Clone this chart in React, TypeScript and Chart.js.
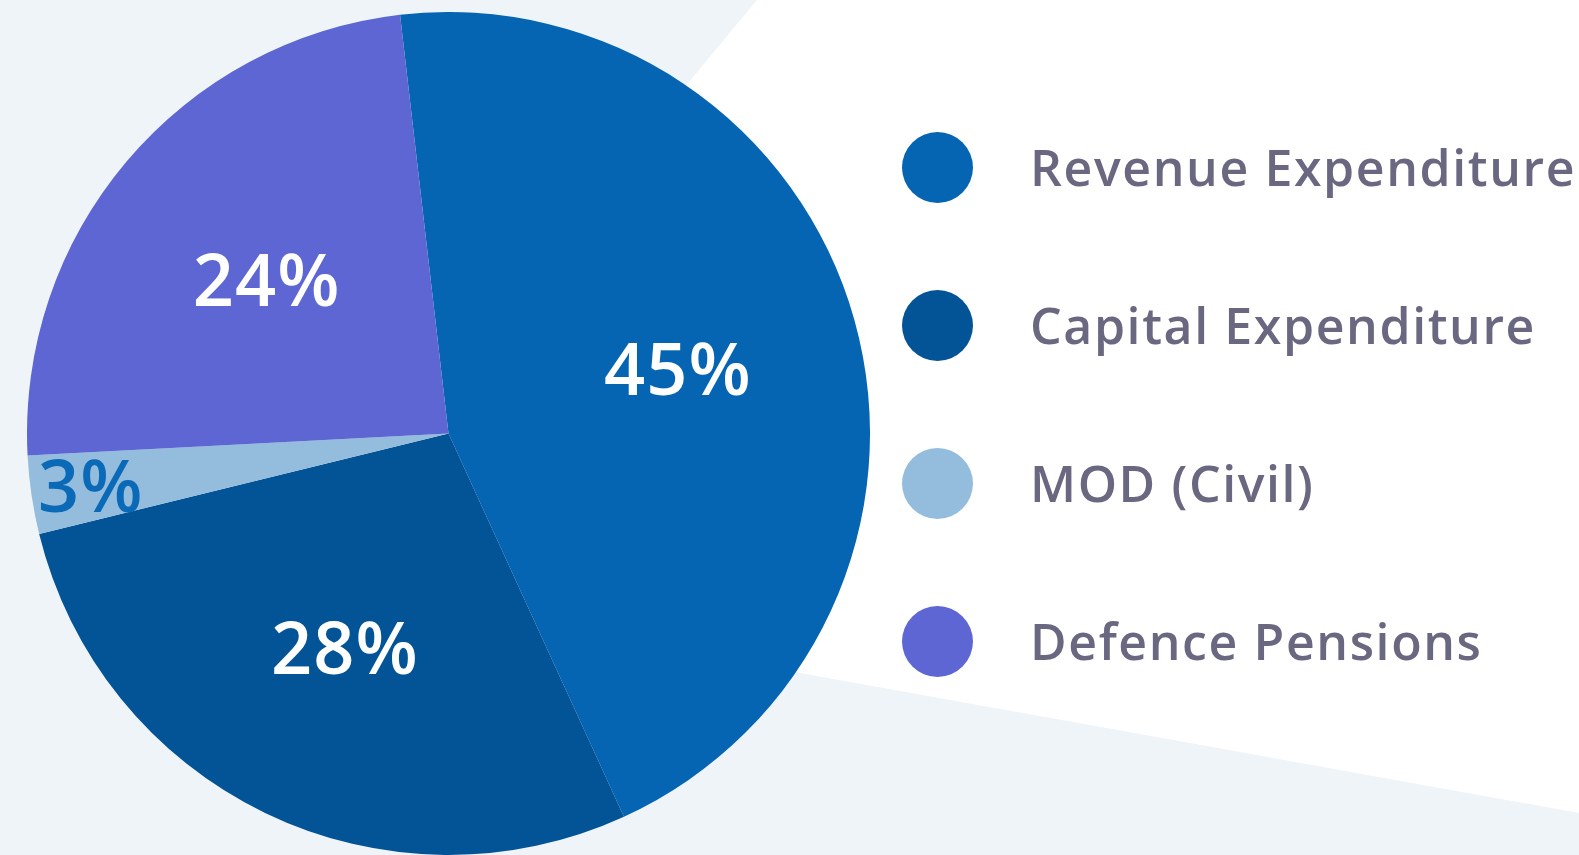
import React, { useEffect, useRef } from "react";
import { Chart, registerables } from "chart.js";

Chart.register(...registerables);

const categories = ["Revenue Expenditure", "Capital Expenditure", "MOD (Civil)", "Defence Pensions"];
const shares = [45, 28, 3, 24];
const sliceColors = ["#0565B3", "#035397", "#94BCDC", "#5D66D2"];
const labelColors = ["#FFFFFF", "#FFFFFF", "#0A6AB8", "#FFFFFF"];

const FONT = "'Open Sans', Inter, sans-serif";

const labelPlugin = {
  id: "sliceLabels",
  afterDatasetsDraw(chart: any) {
    const ctx = chart.ctx;
    const meta = chart.getDatasetMeta(0);
    const data = chart.data.datasets[0].data as number[];
    ctx.save();
    ctx.font = `600 72px ${FONT}`;
    try {
      (ctx as any).letterSpacing = "1px";
    } catch (e) {}
    ctx.textAlign = "center";
    ctx.textBaseline = "alphabetic";
    meta.data.forEach((arc: any, i: number) => {
      const { x, y, startAngle, endAngle, outerRadius } = arc.getProps(
        ["x", "y", "startAngle", "endAngle", "outerRadius"],
        true
      );
      const mid = (startAngle + endAngle) / 2;
      const f = data[i] < 5 ? 0.858 : 0.565;
      const text = `${data[i]}%`;
      const m = ctx.measureText(text);
      const lx = x + Math.cos(mid) * outerRadius * f;
      const ly = y + Math.sin(mid) * outerRadius * f;
      ctx.fillStyle = labelColors[i];
      ctx.fillText(text, lx, ly + (m.actualBoundingBoxAscent - m.actualBoundingBoxDescent) / 2);
    });
    ctx.restore();
  },
};

export default function App() {
  const canvasRef = useRef<HTMLCanvasElement | null>(null);

  useEffect(() => {
    document.body.style.margin = "0";
    const canvas = canvasRef.current;
    if (!canvas) return;
    const chart = new Chart(canvas, {
      type: "pie",
      data: {
        labels: categories,
        datasets: [
          {
            data: shares,
            backgroundColor: sliceColors,
            borderWidth: 0,
          },
        ],
      },
      options: {
        animation: false,
        responsive: true,
        maintainAspectRatio: false,
        rotation: -6.6,
        layout: { padding: 0 },
        plugins: {
          legend: { display: false },
          tooltip: { enabled: false },
          title: { display: false },
        },
      },
      plugins: [labelPlugin],
    });
    return () => chart.destroy();
  }, []);

  const rowTops = [167, 325, 483, 641];

  return (
    <div
      style={{
        position: "fixed",
        left: 0,
        top: 0,
        width: 1579,
        height: 855,
        overflow: "hidden",
        background: "#EFF4F9",
        fontFamily: FONT,
      }}
    >
      <svg
        width={1579}
        height={855}
        style={{ position: "absolute", left: 0, top: 0 }}
      >
        <polygon points="757,0 1579,0 1579,813 800,673 600,600 600,189" fill="#FFFFFF" />
      </svg>
      <div
        style={{
          position: "absolute",
          left: 27,
          top: 12,
          width: 843,
          height: 843,
        }}
      >
        <canvas ref={canvasRef} />
      </div>
      {categories.map((c, i) => (
        <div
          key={c}
          style={{
            position: "absolute",
            left: 902,
            top: rowTops[i] - 36,
            height: 72,
            display: "flex",
            alignItems: "center",
            whiteSpace: "nowrap",
          }}
        >
          <span
            style={{
              display: "inline-block",
              width: 71,
              height: 71,
              borderRadius: "50%",
              background: sliceColors[i],
            }}
          />
          <span
            style={{
              marginLeft: 57,
              fontSize: 50,
              fontWeight: 600,
              letterSpacing: "1.6px",
              color: "#6A6880",
              lineHeight: "72px",
            }}
          >
            {c}
          </span>
        </div>
      ))}
    </div>
  );
}
